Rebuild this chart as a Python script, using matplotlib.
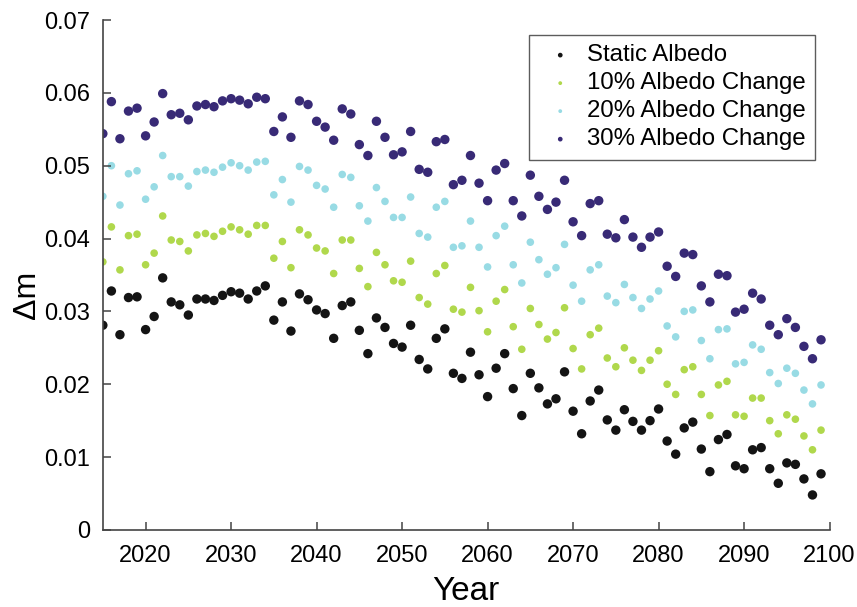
import numpy as np
import matplotlib
matplotlib.use("Agg")
import matplotlib.pyplot as plt

plt.rcParams['font.family'] = ['Liberation Sans', 'DejaVu Sans']

# one point per year, 2015 - 2099
years = np.arange(2015, 2100)

static_albedo = [
    0.0281, 0.0328, 0.0268, 0.0319, 0.0320, 0.0275, 0.0293, 0.0346, 0.0313, 0.0309, 0.0295,
    0.0317, 0.0317, 0.0315, 0.0322, 0.0327, 0.0325, 0.0317, 0.0328, 0.0335, 0.0288, 0.0313,
    0.0273, 0.0324, 0.0316, 0.0302, 0.0297, 0.0263, 0.0308, 0.0313, 0.0274, 0.0242,
    0.0291, 0.0278, 0.0256, 0.0251, 0.0281, 0.0234, 0.0221, 0.0263, 0.0276, 0.0215, 0.0208,
    0.0244, 0.0213, 0.0183, 0.0222, 0.0242, 0.0194, 0.0157, 0.0215, 0.0195, 0.0173,
    0.0180, 0.0217, 0.0163, 0.0132, 0.0177, 0.0192, 0.0151, 0.0137, 0.0165, 0.0149, 0.0137,
    0.0150, 0.0166, 0.0122, 0.0104, 0.0140, 0.0148, 0.0111, 0.0080, 0.0124, 0.0131,
    0.0088, 0.0084, 0.0110, 0.0113, 0.0084, 0.0064, 0.0092, 0.0090, 0.0070, 0.0048, 0.0077,
]

albedo_10 = [
    0.0368, 0.0416, 0.0357, 0.0404, 0.0406, 0.0364, 0.0380, 0.0431, 0.0398, 0.0396, 0.0383,
    0.0405, 0.0407, 0.0403, 0.0410, 0.0416, 0.0412, 0.0406, 0.0418, 0.0418, 0.0373, 0.0396,
    0.0360, 0.0412, 0.0405, 0.0387, 0.0383, 0.0352, 0.0398, 0.0398, 0.0359, 0.0334,
    0.0381, 0.0364, 0.0342, 0.0340, 0.0369, 0.0319, 0.0310, 0.0352, 0.0363, 0.0303, 0.0299,
    0.0333, 0.0301, 0.0272, 0.0314, 0.0330, 0.0279, 0.0248, 0.0304, 0.0282, 0.0262,
    0.0271, 0.0305, 0.0249, 0.0221, 0.0268, 0.0277, 0.0236, 0.0224, 0.0250, 0.0233, 0.0219,
    0.0233, 0.0246, 0.0200, 0.0186, 0.0220, 0.0224, 0.0186, 0.0157, 0.0199, 0.0204,
    0.0158, 0.0156, 0.0181, 0.0181, 0.0150, 0.0132, 0.0158, 0.0152, 0.0129, 0.0110, 0.0137,
]

albedo_20 = [
    0.0458, 0.0500, 0.0446, 0.0489, 0.0493, 0.0454, 0.0471, 0.0514, 0.0485, 0.0485, 0.0472,
    0.0492, 0.0494, 0.0491, 0.0498, 0.0504, 0.0500, 0.0494, 0.0505, 0.0506, 0.0460, 0.0481,
    0.0450, 0.0499, 0.0494, 0.0473, 0.0468, 0.0443, 0.0488, 0.0484, 0.0445, 0.0424,
    0.0470, 0.0451, 0.0429, 0.0429, 0.0457, 0.0407, 0.0402, 0.0443, 0.0451, 0.0388, 0.0390,
    0.0424, 0.0388, 0.0361, 0.0404, 0.0417, 0.0364, 0.0339, 0.0395, 0.0371, 0.0351,
    0.0360, 0.0392, 0.0336, 0.0314, 0.0357, 0.0364, 0.0321, 0.0312, 0.0337, 0.0319, 0.0304,
    0.0317, 0.0328, 0.0280, 0.0265, 0.0300, 0.0302, 0.0260, 0.0235, 0.0275, 0.0276,
    0.0228, 0.0230, 0.0254, 0.0248, 0.0216, 0.0201, 0.0222, 0.0215, 0.0192, 0.0173, 0.0199,
]

albedo_30 = [
    0.0544, 0.0588, 0.0537, 0.0575, 0.0579, 0.0541, 0.0560, 0.0599, 0.0570, 0.0572, 0.0563,
    0.0582, 0.0584, 0.0581, 0.0589, 0.0592, 0.0590, 0.0585, 0.0594, 0.0592, 0.0547, 0.0567,
    0.0539, 0.0589, 0.0584, 0.0561, 0.0553, 0.0535, 0.0578, 0.0571, 0.0529, 0.0514,
    0.0561, 0.0539, 0.0515, 0.0519, 0.0547, 0.0495, 0.0491, 0.0533, 0.0536, 0.0474, 0.0480,
    0.0514, 0.0476, 0.0452, 0.0494, 0.0503, 0.0452, 0.0431, 0.0487, 0.0458, 0.0440,
    0.0450, 0.0480, 0.0423, 0.0404, 0.0448, 0.0452, 0.0406, 0.0401, 0.0426, 0.0402, 0.0388,
    0.0402, 0.0409, 0.0362, 0.0348, 0.0380, 0.0378, 0.0335, 0.0313, 0.0351, 0.0349,
    0.0299, 0.0303, 0.0325, 0.0317, 0.0281, 0.0268, 0.0290, 0.0278, 0.0252, 0.0235, 0.0261,
]

labels = ['Static Albedo', '10% Albedo Change', '20% Albedo Change', '30% Albedo Change']
colors = ['#141414', '#b0d84c', '#98dbe4', '#382a76']

fig = plt.figure(figsize=(8.57, 6.07), dpi=100)
ax = fig.add_axes([0.120, 0.127, 0.848, 0.840])

series = [static_albedo, albedo_10, albedo_20, albedo_30]
sizes = [46, 30, 30, 46]
for vals, lab, col, s in zip(series, labels, colors, sizes):
    ax.scatter(years, vals, s=s, color=col, edgecolors='none', label=lab)

ax.set_xlim(2015, 2100)
ax.set_ylim(0, 0.07)
ax.set_xticks(np.arange(2020, 2101, 10))
ax.set_yticks(np.arange(0, 0.0701, 0.01))
ax.set_yticklabels(['0', '0.01', '0.02', '0.03', '0.04', '0.05', '0.06', '0.07'])

ax.spines['top'].set_visible(False)
ax.spines['right'].set_visible(False)
for sp in ['left', 'bottom']:
    ax.spines[sp].set_linewidth(1.2)
    ax.spines[sp].set_color('#444444')
ax.tick_params(direction='in', length=6, width=1.1, color='#444444', labelsize=17)
ax.tick_params(axis='y', pad=9)
ax.tick_params(axis='x', pad=11)

ax.set_xlabel('Year', fontsize=24, labelpad=6)
ax.set_ylabel('Δm', fontsize=23)
ax.yaxis.set_label_coords(-0.084, 0.46)

leg = ax.legend(loc='upper right', bbox_to_anchor=(0.98, 0.971), borderaxespad=0,
                fontsize=17.3, markerscale=0.5, handletextpad=0.2, handlelength=1.8,
                labelspacing=0.25, fancybox=False, frameon=True, borderpad=0.4)
leg.get_frame().set_edgecolor('#333333')
leg.get_frame().set_linewidth(1.0)

fig.savefig('out.png', dpi=100)
